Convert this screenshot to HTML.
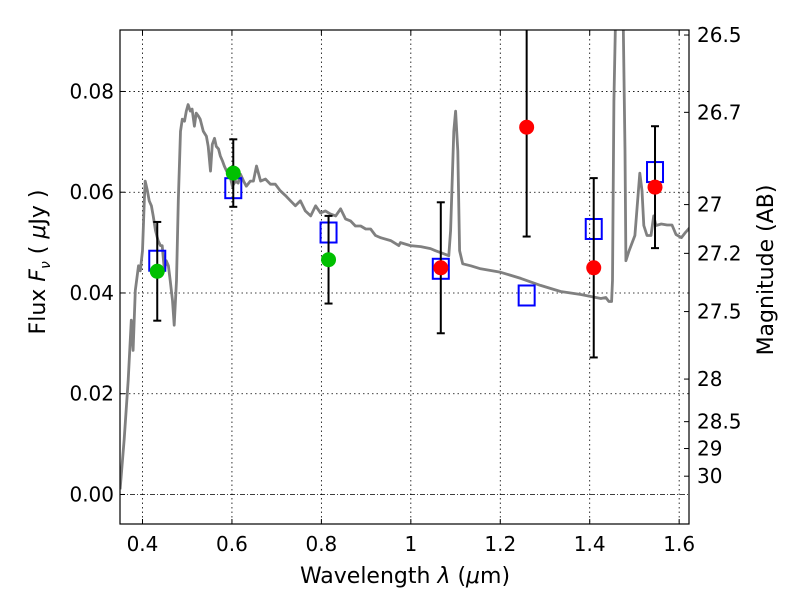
<!DOCTYPE html>
<html><head><meta charset="utf-8"><style>
html,body{margin:0;padding:0;background:#fff;}
svg{display:block;font-family:"DejaVu Sans","Liberation Sans",sans-serif;}
</style></head><body>
<svg id="chart" width="800" height="600" viewBox="0 0 800 600">
<defs><clipPath id="plotclip"><rect x="120" y="30" width="569" height="494"/></clipPath></defs>
<rect x="0" y="0" width="800" height="600" fill="#fff"/>
<g id="grid"></g>
<g id="spec" clip-path="url(#plotclip)"></g>
<g id="marks" clip-path="url(#plotclip)"></g>
<rect x="120" y="30" width="569" height="494" fill="none" stroke="#000" stroke-width="1.2"/>
<g id="axes"></g>
<text x="405" y="583" font-size="22" text-anchor="middle">Wavelength  <tspan font-style="italic">λ</tspan> (<tspan font-style="italic">μ</tspan>m)</text>
<text transform="translate(45,262) rotate(-90)" font-size="22" text-anchor="middle">Flux  <tspan font-style="italic">F</tspan><tspan font-style="italic" font-size="14" dy="5">ν</tspan><tspan dy="-5">  (  </tspan><tspan font-style="italic">μ</tspan>Jy )</text>
<text transform="translate(773,270) rotate(-90)" font-size="22" text-anchor="middle">Magnitude (AB)</text>
</svg>
<script>
const specLam=[0.350,0.359,0.368,0.375,0.379,0.384,0.391,0.395,0.400,0.404,0.406,0.411,0.415,0.420,0.424,0.429,0.435,0.440,0.444,0.449,0.453,0.458,0.462,0.467,0.471,0.476,0.480,0.485,0.489,0.494,0.498,0.502,0.507,0.511,0.516,0.520,0.525,0.529,0.536,0.543,0.547,0.552,0.556,0.561,0.565,0.570,0.574,0.579,0.583,0.588,0.594,0.601,0.608,0.614,0.619,0.626,0.632,0.641,0.648,0.655,0.664,0.675,0.686,0.697,0.708,0.720,0.731,0.742,0.753,0.764,0.776,0.787,0.798,0.809,0.820,0.832,0.843,0.854,0.865,0.876,0.888,0.899,0.910,0.921,0.932,0.955,0.973,0.977,0.999,1.022,1.044,1.055,1.067,1.085,1.089,1.096,1.100,1.105,1.109,1.116,1.134,1.156,1.201,1.246,1.290,1.335,1.380,1.425,1.436,1.443,1.449,1.451,1.454,1.459,1.474,1.479,1.481,1.488,1.501,1.512,1.517,1.521,1.528,1.537,1.543,1.548,1.560,1.573,1.584,1.593,1.605,1.614,1.631];
const specFlux=[0.001,0.011,0.0227,0.0346,0.0286,0.0405,0.0454,0.0444,0.0484,0.0583,0.0622,0.0603,0.0583,0.0573,0.0553,0.0524,0.0504,0.0494,0.0494,0.0444,0.0464,0.0454,0.0425,0.0385,0.0336,0.0425,0.0583,0.0721,0.0745,0.0741,0.0761,0.0774,0.0761,0.0765,0.0731,0.0757,0.0751,0.0745,0.0721,0.0711,0.0691,0.0642,0.0695,0.0707,0.0691,0.0686,0.0672,0.0662,0.0652,0.0642,0.0638,0.0612,0.0622,0.0618,0.0636,0.0622,0.0612,0.0622,0.0622,0.0652,0.0622,0.0626,0.0616,0.0616,0.0603,0.0593,0.0583,0.0573,0.0583,0.0563,0.0553,0.0573,0.0559,0.0563,0.0557,0.0553,0.0567,0.0547,0.0543,0.0533,0.0533,0.0527,0.0527,0.0514,0.0510,0.0504,0.0494,0.0500,0.0494,0.0492,0.0488,0.0484,0.0480,0.0474,0.0524,0.0721,0.0761,0.0682,0.0484,0.0458,0.0454,0.0448,0.0441,0.0429,0.0415,0.0403,0.0397,0.0389,0.0391,0.0383,0.0383,0.0425,0.0780,0.1000,0.1000,0.0682,0.0464,0.0484,0.0514,0.0638,0.0603,0.0534,0.0514,0.0514,0.0553,0.0534,0.0537,0.0535,0.0535,0.0516,0.0510,0.0520,0.0537];
const obsLam=[0.433,0.603,0.816,1.067,1.259,1.409,1.546];
const obsFlux=[0.0443,0.0638,0.0466,0.0450,0.0729,0.0450,0.0610];
const obsErr=[0.0098,0.0067,0.0087,0.0130,0.0217,0.0178,0.0121];
const obsColor=["#00c000","#00c000","#00c000","#ff0000","#ff0000","#ff0000","#ff0000"];
const modelFlux=[0.0464,0.0608,0.0520,0.0448,0.0395,0.0527,0.0640];
const xTicks=[0.4,0.6,0.8,1.0,1.2,1.4,1.6];
const xTickLabels=["0.4","0.6","0.8","1","1.2","1.4","1.6"];
const yTicks=[0,0.02,0.04,0.06,0.08];
const yTickLabels=["0.00","0.02","0.04","0.06","0.08"];
const magTicks=[26.5,26.7,27,27.2,27.5,28,28.5,29,30];
const magTickLabels=["26.5","26.7","27","27.2","27.5","28","28.5","29","30"];

const NS="http://www.w3.org/2000/svg";
const X0=120,X1=689,Y0=524,Y1=30,xmin=0.3497,xmax=1.622,ymin=-0.00586,ymax=0.0922;
function sx(v){return X0+(v-xmin)/(xmax-xmin)*(X1-X0);}
function sy(v){return Y0-(v-ymin)/(ymax-ymin)*(Y0-Y1);}
function mk(tag,attrs,parent){const e=document.createElementNS(NS,tag);for(const k in attrs)e.setAttribute(k,attrs[k]);parent.appendChild(e);return e;}
const grid=document.getElementById('grid'),spec=document.getElementById('spec'),marks=document.getElementById('marks'),axes=document.getElementById('axes');

xTicks.forEach((t,i)=>{
 const g=mk('line',{x1:sx(t),x2:sx(t),y1:Y1,y2:Y0,stroke:'#000','stroke-width':0.8,'stroke-dasharray':'1.5,3'},grid);
 
 
 mk('line',{x1:sx(t),x2:sx(t),y1:Y0,y2:Y0-5,stroke:'#000'},axes);
 mk('line',{x1:sx(t),x2:sx(t),y1:Y1,y2:Y1+5,stroke:'#000'},axes);
 const tx=mk('text',{x:sx(t),y:Y0+27,'font-size':20,'text-anchor':'middle'},axes);
 tx.textContent=xTickLabels[i];
 
 
});
yTicks.forEach((t,i)=>{
 const g=mk('line',{x1:X0,x2:X1,y1:sy(t),y2:sy(t),stroke:'#000','stroke-width':0.8,'stroke-dasharray':t===0?'5,2,1,2':'1.5,3'},grid);
 
 
 mk('line',{x1:X0,x2:X0+5,y1:sy(t),y2:sy(t),stroke:'#000'},axes);
 const tx=mk('text',{x:X0-6,y:sy(t)+7,'font-size':20,'text-anchor':'end'},axes);
 tx.textContent=yTickLabels[i];
 
 
});
magTicks.forEach((m,i)=>{
 const f=Math.pow(10,(23.9-m)/2.5);
 mk('line',{x1:X1,x2:X1-5,y1:sy(f),y2:sy(f),stroke:'#000'},axes);
 const tx=mk('text',{x:X1+8,y:sy(f)+7,'font-size':20},axes);
 tx.textContent=magTickLabels[i];
 
 
});
const pts=specLam.map((l,i)=>sx(l).toFixed(1)+','+sy(specFlux[i]).toFixed(1)).join(' ');
const pl=mk('polyline',{points:pts,fill:'none',stroke:'#808080','stroke-width':2.8,'stroke-linejoin':'round'},spec);


obsLam.forEach((l,i)=>{
 const x=sx(l),y=sy(obsFlux[i]),yt=sy(obsFlux[i]+obsErr[i]),yb=sy(obsFlux[i]-obsErr[i]);
 const sq=mk('rect',{x:x-8,y:sy(modelFlux[i])-10,width:16,height:20,fill:'none',stroke:'#0000ff','stroke-width':2},marks);
 
 
 const eb=mk('line',{x1:x,x2:x,y1:yt,y2:yb,stroke:'#000','stroke-width':2},marks);
 
 
 mk('line',{x1:x-4,x2:x+4,y1:yt,y2:yt,stroke:'#000','stroke-width':2},marks);
 mk('line',{x1:x-4,x2:x+4,y1:yb,y2:yb,stroke:'#000','stroke-width':2},marks);
 const c=mk('circle',{cx:x,cy:y,r:7.5,fill:obsColor[i]},marks);
 
 
});
</script>
</body></html>
